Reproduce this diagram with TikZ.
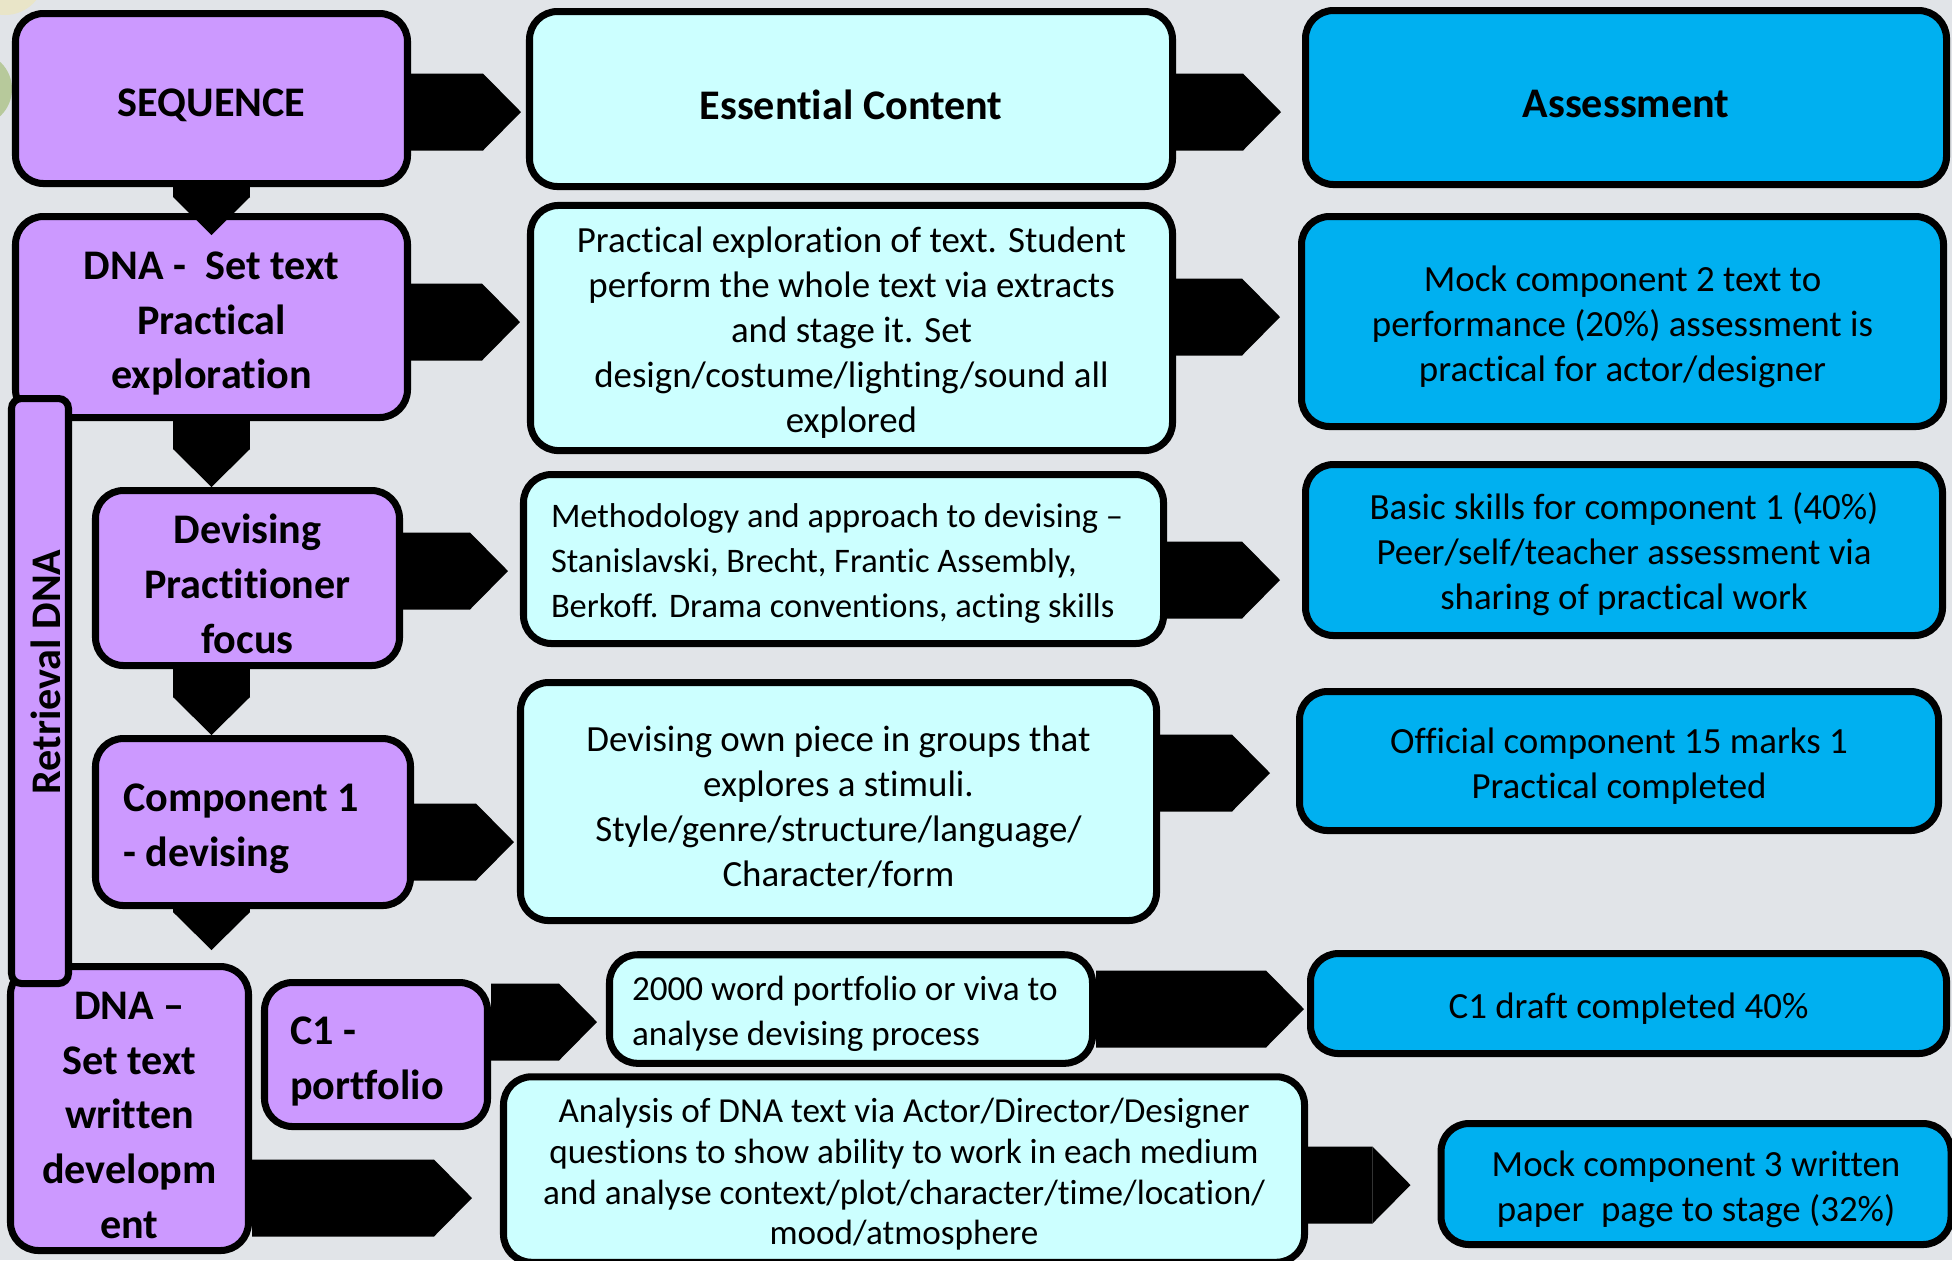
\documentclass[tikz,border=0pt]{standalone}
\usepackage{fontspec}
\setmainfont[Ligatures=NoCommon]{Carlito}
\usetikzlibrary{arrows.meta}
\definecolor{bgrey}{HTML}{E1E4E8}
\definecolor{seqpurple}{HTML}{CC99FF}
\definecolor{contentcyan}{HTML}{CCFFFF}
\definecolor{assessblue}{HTML}{00B0F0}
\definecolor{beige}{HTML}{E9E5C8}
\definecolor{sage}{HTML}{B7C99B}
\tikzstyle{purplebox} = [rectangle, rounded corners=0.28cm, draw, line width=2pt, fill=seqpurple, align=flush center, font=\bfseries\fontsize{12}{15.6}\selectfont, execute at begin node={\rule{0pt}{0.97em}}]
\tikzstyle{contentbox} = [rectangle, rounded corners=0.28cm, draw, line width=2pt, fill=contentcyan, align=flush center, font=\fontsize{10.5}{12.8}\selectfont, execute at begin node={\rule{0pt}{0.97em}}]
\tikzstyle{assessbox} = [rectangle, rounded corners=0.28cm, draw, line width=2pt, fill=assessblue, align=flush center, font=\fontsize{10.5}{12.8}\selectfont, execute at begin node={\rule{0pt}{0.97em}}]
\tikzstyle{heading} = [font=\bfseries\fontsize{12}{15.6}\selectfont]
\tikzstyle{arrow} = [line width=0.77cm, -{Triangle[length=0.38cm, width=0.77cm, line width=0pt]}]

\begin{document}
\begin{tikzpicture}
            \useasboundingbox (0,0) rectangle (19.52,-12.6);
            \fill [bgrey] (0,0) rectangle (19.52,-12.6);
            \fill [beige] (0.05,0.25) circle (0.4);
            \fill [sage] (-0.25,-0.89) circle (0.37);

            % sequence column
            \node [purplebox, minimum width=3.92cm, minimum height=1.70cm] at (2.115,-0.985) (seq) {SEQUENCE};
            \node [purplebox, minimum width=3.92cm, minimum height=2.01cm, text width=3.5cm] at (2.115,-3.17) (dna1) {DNA -\ \ Set text\\Practical\\exploration};
            \node [purplebox, minimum width=3.04cm, minimum height=1.75cm, text width=2.7cm] at (2.475,-5.78) (devising) {Devising\\Practitioner\\focus};
            \node [purplebox, minimum width=3.15cm, minimum height=1.67cm, text width=2.6cm, align=flush left] at (2.53,-8.22) (comp1) {Component 1\\- devising};
            \node [purplebox, minimum width=2.38cm, minimum height=2.62cm, text width=2.05cm] at (1.295,-11.085) (dnaw) {DNA --\\Set text\\written\\developm\\ent};
            \node [purplebox, minimum width=2.23cm, minimum height=1.44cm, text width=1.72cm, align=flush left] at (3.76,-10.545) (c1p) {C1 -\\portfolio};

            % essential content column
            \node [contentbox, heading, minimum width=6.43cm, minimum height=1.75cm] at (8.51,-0.99) (ec) {Essential Content};
            \node [contentbox, minimum width=6.42cm, minimum height=2.23cm, text width=6.0cm] at (8.515,-3.28) (prac) {Practical exploration of text. Student\\perform the whole text via extracts\\and stage it. Set\\design/costume/lighting/sound all\\explored};
            \node [contentbox, minimum width=6.40cm, minimum height=1.69cm, text width=5.85cm, align=flush left, font=\fontsize{9.8}{12.8}\selectfont] at (8.435,-5.59) (meth) {Methodology and approach to devising --\\Stanislavski, Brecht, Frantic Assembly,\\Berkoff. Drama conventions, acting skills};
            \node [contentbox, minimum width=6.36cm, minimum height=2.38cm, text width=5.9cm] at (8.385,-8.015) (devown) {Devising own piece in groups that\\explores a stimuli.\\Style/genre/structure/language/\\Character/form};
            \node [contentbox, minimum width=4.83cm, minimum height=1.07cm, text width=4.38cm, align=flush left, font=\fontsize{10}{12.8}\selectfont] at (8.51,-10.09) (port) {2000 word portfolio or viva to\\analyse devising process};
            \node [contentbox, minimum width=8.01cm, minimum height=1.70cm, text width=7.6cm, font=\fontsize{10}{11.6}\selectfont] at (9.04,-11.695) (analysis) {Analysis of DNA text via Actor/Director/Designer\\questions to show ability to work in each medium\\and analyse context/plot/character/time/location/\\mood/atmosphere};

            % assessment column
            \node [assessbox, heading, minimum width=6.41cm, minimum height=1.74cm] at (16.26,-0.975) (assess) {Assessment};
            \node [assessbox, minimum width=6.42cm, minimum height=2.10cm, text width=6.0cm] at (16.225,-3.215) (mock2) {Mock component 2 text to\\performance (20\%) assessment is\\practical for actor/designer};
            \node [assessbox, minimum width=6.37cm, minimum height=1.71cm, text width=6.0cm] at (16.24,-5.50) (basic) {Basic skills for component 1 (40\%)\\Peer/self/teacher assessment via\\sharing of practical work};
            \node [assessbox, minimum width=6.39cm, minimum height=1.39cm, text width=6.0cm] at (16.19,-7.61) (official) {Official component 15 marks 1\\Practical completed};
            \node [assessbox, minimum width=6.36cm, minimum height=1.00cm] at (16.285,-10.035) (c1draft) {C1 draft completed 40\%};
            \node [assessbox, minimum width=5.10cm, minimum height=1.21cm, text width=4.7cm] at (16.96,-11.84) (mock3) {Mock component 3 written\\paper\ \ page to stage (32\%)};

            % across
            \draw [arrow] ([yshift=-1.35mm]seq.east) -- ([xshift=-0.5mm,yshift=-1.3mm]ec.west);
            \draw [arrow] ([yshift=-1.3mm]ec.east) -- ([xshift=-2.1mm,yshift=-1.45mm]assess.west);
            \draw [arrow] ([yshift=-0.5mm]dna1.east) -- ([xshift=-0.7mm,yshift=0.6mm]prac.west);
            \draw [arrow] ([yshift=1.1mm]prac.east) -- ([xshift=-1.8mm,yshift=0.45mm]mock2.west);
            \draw [arrow] ([yshift=0.7mm]devising.east) -- ([xshift=-1.2mm,yshift=-1.2mm]meth.west);
            \draw [arrow] ([yshift=-2.1mm]meth.east) -- ([xshift=-2.2mm,yshift=-3mm]basic.west);
            \draw [arrow] ([yshift=-2mm]comp1.east) -- ([xshift=-0.3mm,yshift=-4.05mm]devown.west);
            \draw [arrow] ([yshift=2.85mm]devown.east) -- ([xshift=-2.6mm,yshift=-1.2mm]official.west);
            \draw [arrow] ([yshift=3.25mm]c1p.east) -- ([xshift=-0.9mm,yshift=-1.3mm]port.west);
            \draw [arrow] (port.east) -- ([xshift=-0.3mm,yshift=-0.55mm]c1draft.west);
            \draw [arrow] ([yshift=-8.95mm]dnaw.east) -- ([xshift=-2.8mm,yshift=-2.85mm]analysis.west);
            \draw [arrow] ([yshift=-1.55mm]analysis.east) -- ([xshift=-2.7mm,yshift=-0.1mm]mock3.west);

            % down
            \draw [arrow] (seq.south) -- ([yshift=-2.2mm]dna1.north);
            \draw [arrow] (dna1.south) -- (dna1.south |- devising.north);
            \draw [arrow] (dna1.south |- devising.south) -- (dna1.south |- comp1.north);
            \draw [arrow, shorten >=1.3mm] (dna1.south |- comp1.south) -- (dna1.south |- dnaw.north);

            \node [purplebox, rounded corners=0.1cm, rotate=90, minimum width=5.85cm, minimum height=0.57cm, inner sep=0pt] at (0.40,-6.91) (retrieval) {\hspace*{0.38cm}Retrieval DNA};
\end{tikzpicture}
\end{document}
